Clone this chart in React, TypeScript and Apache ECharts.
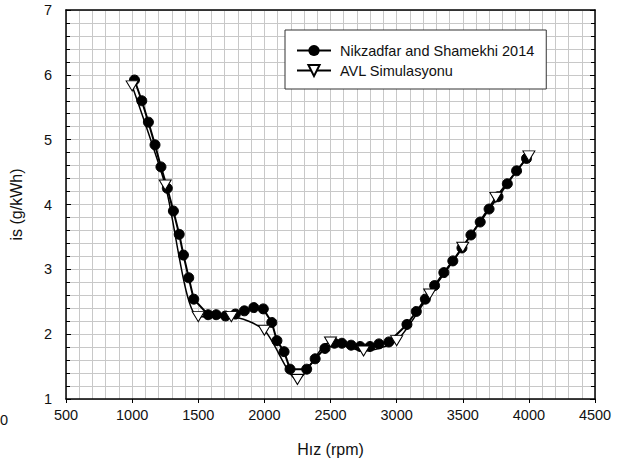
import React, { useEffect, useRef } from "react";
import * as echarts from "echarts";

const nikzadfarRpm = [1018, 1073, 1123, 1173, 1218, 1266, 1312, 1356, 1388, 1428, 1466, 1575, 1636, 1706, 1781, 1849, 1920, 1992, 2056, 2095, 2149, 2194, 2320, 2384, 2458, 2530, 2586, 2656, 2724, 2799, 2866, 2941, 3078, 3149, 3217, 3287, 3357, 3425, 3494, 3562, 3632, 3699, 3767, 3837, 3907, 3982];
const nikzadfarIs = [5.92, 5.6, 5.27, 4.92, 4.58, 4.25, 3.9, 3.54, 3.22, 2.87, 2.54, 2.3, 2.3, 2.28, 2.31, 2.36, 2.41, 2.39, 2.18, 1.9, 1.73, 1.46, 1.46, 1.62, 1.78, 1.86, 1.86, 1.83, 1.81, 1.81, 1.85, 1.88, 2.15, 2.35, 2.54, 2.75, 2.95, 3.13, 3.33, 3.53, 3.73, 3.93, 4.12, 4.32, 4.52, 4.71];

const avlRpm = [1000, 1250, 1500, 1750, 2000, 2250, 2500, 2750, 3000, 3250, 3500, 3750, 4000];
const avlIs = [5.83, 4.3, 2.27, 2.27, 2.06, 1.3, 1.88, 1.74, 1.9, 2.62, 3.34, 4.11, 4.75];

const xTicks = { min: 500, max: 4500, interval: 500 };
const yTicks = { min: 1, max: 7, interval: 1 };

const seriesNames = ["Nikzadfar and Shamekhi 2014", "AVL Simulasyonu"];

const FONT = "Liberation Sans, Arial, sans-serif";

export default function App() {
  const ref = useRef<HTMLDivElement>(null);
  useEffect(() => {
    if (!ref.current) return;
    const chart = echarts.init(ref.current, undefined, { renderer: "svg" });
    const gridLine = { show: true, lineStyle: { color: "#c8c8c8", width: 1 } };
    const fmt = (v: number) => String(v);
    const option: any = {
      animation: false,
      backgroundColor: "#ffffff",
      textStyle: { fontFamily: FONT },
      grid: { left: 62, right: 23, top: 10, bottom: 66 },
      legend: {
        orient: "vertical",
        left: 285,
        top: 30,
        padding: [13, 12, 11, 11],
        itemWidth: 34,
        itemHeight: 14,
        itemGap: 5,
        borderColor: "#333",
        borderWidth: 1,
        backgroundColor: "#fff",
        textStyle: { fontSize: 14.5, color: "#111", fontFamily: FONT, padding: [0, 0, 0, 4] },
        data: seriesNames,
      },
      xAxis: [
        {
          type: "value",
          min: xTicks.min,
          max: xTicks.max,
          interval: xTicks.interval,
          name: "Hız (rpm)",
          nameLocation: "middle",
          nameGap: 42,
          nameTextStyle: { fontSize: 16, color: "#111", fontFamily: FONT },
          axisLine: { show: true, lineStyle: { color: "#000", width: 1.5 } },
          axisTick: { show: true, inside: false, length: 4, lineStyle: { color: "#000" } },
          axisLabel: { fontSize: 14.5, color: "#111", margin: 8, fontFamily: FONT, formatter: fmt },
          splitLine: gridLine,
          minorTick: { show: false, splitNumber: 5 },
          minorSplitLine: gridLine,
        },
        {
          type: "value",
          position: "top",
          min: xTicks.min,
          max: xTicks.max,
          interval: xTicks.interval,
          axisLine: { show: true, lineStyle: { color: "#000", width: 1.5 } },
          axisTick: { show: false },
          axisLabel: { show: false },
          splitLine: { show: false },
        },
      ],
      yAxis: [
        {
          type: "value",
          min: yTicks.min,
          max: yTicks.max,
          interval: yTicks.interval,
          name: "is (g/kWh)",
          nameLocation: "middle",
          nameGap: 42,
          nameTextStyle: { fontSize: 16, color: "#111", fontFamily: FONT },
          axisLine: { show: true, lineStyle: { color: "#000", width: 1.5 } },
          axisTick: { show: true, inside: true, length: 5, lineStyle: { color: "#000" } },
          minorTick: { show: true, splitNumber: 5, length: 4, lineStyle: { color: "#000" } },
          axisLabel: { fontSize: 14.5, color: "#111", margin: 14, fontFamily: FONT, formatter: fmt },
          splitLine: gridLine,
          minorSplitLine: gridLine,
        },
        {
          type: "value",
          position: "right",
          min: yTicks.min,
          max: yTicks.max,
          interval: yTicks.interval,
          axisLine: { show: true, lineStyle: { color: "#000", width: 1.5 } },
          axisTick: { show: true, inside: true, length: 5, lineStyle: { color: "#000" } },
          minorTick: { show: true, splitNumber: 5, length: 4, lineStyle: { color: "#000" } },
          axisLabel: { show: false },
          splitLine: { show: false },
        },
      ],
      series: [
        {
          name: seriesNames[0],
          type: "line",
          data: nikzadfarRpm.map((x, i) => [x, nikzadfarIs[i]]),
          symbol: "circle",
          symbolSize: 10,
          itemStyle: { color: "#000", borderColor: "#000" },
          lineStyle: { color: "#000", width: 2 },
          z: 3,
        },
        {
          name: seriesNames[1],
          type: "line",
          data: avlRpm.map((x, i) => [x, avlIs[i]]),
          symbol: "triangle",
          symbolRotate: 180,
          symbolSize: [12, 10],
          showAllSymbol: true,
          smooth: 0.25,
          itemStyle: { color: "#fff", borderColor: "#000", borderWidth: 1 },
          lineStyle: { color: "#000", width: 1.5 },
          z: 4,
        },
      ],
      graphic: [
        {
          type: "text",
          left: 0,
          top: 412,
          style: { text: "0", fontSize: 14.5, fill: "#111", fontFamily: FONT },
        },
      ],
    };
    chart.setOption(option);
    return () => chart.dispose();
  }, []);
  return <div ref={ref} style={{ width: 618, height: 465, position: "absolute", left: 0, top: 0 }} />;
}
